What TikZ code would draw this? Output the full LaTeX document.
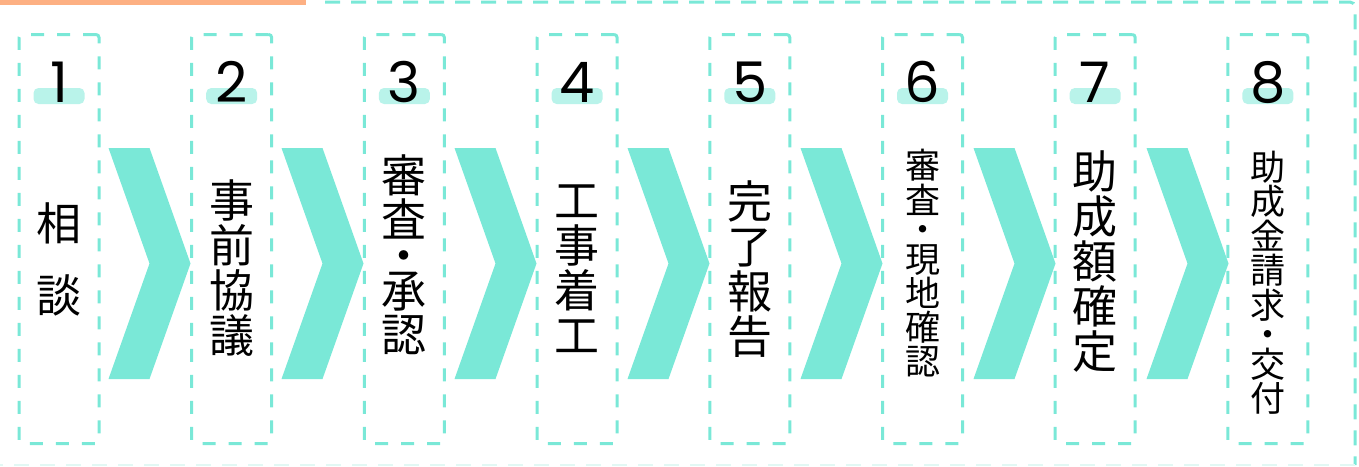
\documentclass[tikz,border=0pt]{standalone}
\usepackage{fontspec}
\newfontfamily\jp{Noto Sans CJK JP}
\newfontfamily\numfont{Poppins}
\definecolor{teal1}{HTML}{7AE8D7}
\definecolor{hl}{HTML}{B9F3EA}
\definecolor{orng}{HTML}{FDB083}
\definecolor{faint}{HTML}{E2F8F4}
\newcommand\bigdotmark{\makebox[12pt]{\makebox[0pt]{\raisebox{-17.1pt}{・}}}}
\newcommand\smalldotmark{\makebox[10pt]{\makebox[0pt]{\raisebox{-13.3pt}{・}}}}
\begin{document}
\begin{tikzpicture}[x=1pt,y=-1pt,
  stepbox/.style={draw=teal1, line width=3pt, dash pattern=on 13pt off 13pt, rounded corners=3pt, minimum width=80pt, minimum height=409pt, inner sep=0pt, anchor=north},
  outerline/.style={draw=teal1, line width=3pt, dash pattern=on 15pt off 11pt, rounded corners=5pt},
  chev/.style={fill=teal1, draw=none},
  big/.style={font=\jp\fontsize{45}{45}\selectfont, inner sep=0pt, text height=39.6pt, text depth=5.4pt},
  small/.style={font=\jp\fontsize{35}{35}\selectfont, inner sep=0pt, text height=30.8pt, text depth=4.2pt},
  bigdot/.style={font=\jp\fontsize{45}{45}\selectfont, inner sep=0pt, text height=6pt, text depth=6pt},
  smalldot/.style={font=\jp\fontsize{35}{35}\selectfont, inner sep=0pt, text height=5pt, text depth=5pt},
  num/.style={font=\numfont\fontsize{56}{56}\selectfont, inner sep=0pt, anchor=base},
  hlbox/.style={fill=hl, rounded corners=5pt, minimum width=51pt, minimum height=16pt, inner sep=0pt}]
\useasboundingbox (0,0) rectangle (1359,466);
% frame
\fill[orng] (0,0) rectangle (306,5);
\draw[outerline] (325,2) -- (1355,2) -- (1355,465);
\draw[draw=faint, line width=2pt, dash pattern=on 15pt off 11pt] (1355,465) -- (0,465);
% boxes, numbers
\foreach \i in {1,...,8} {
  \pgfmathsetmacro\cx{59+172.7*(\i-1)}
  \node[stepbox] (b\i) at (\cx,33) {};
  \node[hlbox] (h\i) at (\cx,96) {};
  \node[num] (n\i) at (\cx,102) {\i};
}
% chevrons
\foreach \k in {0,...,6} {
  \fill[chev] ({108.5+173*\k},148) -- ++(41,0) -- ++(41,115.5) -- ++(-41,115.5) -- ++(-41,0) -- ++(41,-115.5) -- cycle;
}
% texts
\foreach \c/\y [count=\j] in {相/223.5, 談/295.5}
  \node[big] (ta\j) at (59,\y) {\c};
\foreach \c/\y [count=\j] in {事/200, 前/245, 協/290, 議/335}
  \node[big] (tb\j) at (231.7,\y) {\c};
\foreach \c/\y [count=\j] in {審/175, 査/219.5, 承/290, 認/334}
  \node[big] (tc\j) at (404.4,\y) {\c};
\node[bigdot] (tcd) at (404.4,255) {\bigdotmark};
\foreach \c/\y [count=\j] in {工/200, 事/245, 着/290, 工/335}
  \node[big] (td\j) at (577.1,\y) {\c};
\foreach \c/\y [count=\j] in {完/201, 了/246, 報/291, 告/336}
  \node[big] (te\j) at (749.8,\y) {\c};
\foreach \c/\y [count=\j] in {審/165.5, 査/200, 現/259, 地/293, 確/327, 認/361}
  \node[small] (tf\j) at (922.5,\y) {\c};
\node[smalldot] (tfd) at (922.5,229.5) {\smalldotmark};
\foreach \c/\y [count=\j] in {助/171, 成/216, 額/261, 確/306, 定/351}
  \node[big] (tg\j) at (1095.2,\y) {\c};
\foreach \c/\y [count=\j] in {助/167, 成/201.5, 金/236, 請/270.5, 求/305, 交/364, 付/398.5}
  \node[small] (th\j) at (1267.9,\y) {\c};
\node[smalldot] (thd) at (1267.9,334.5) {\smalldotmark};
\end{tikzpicture}
\end{document}
